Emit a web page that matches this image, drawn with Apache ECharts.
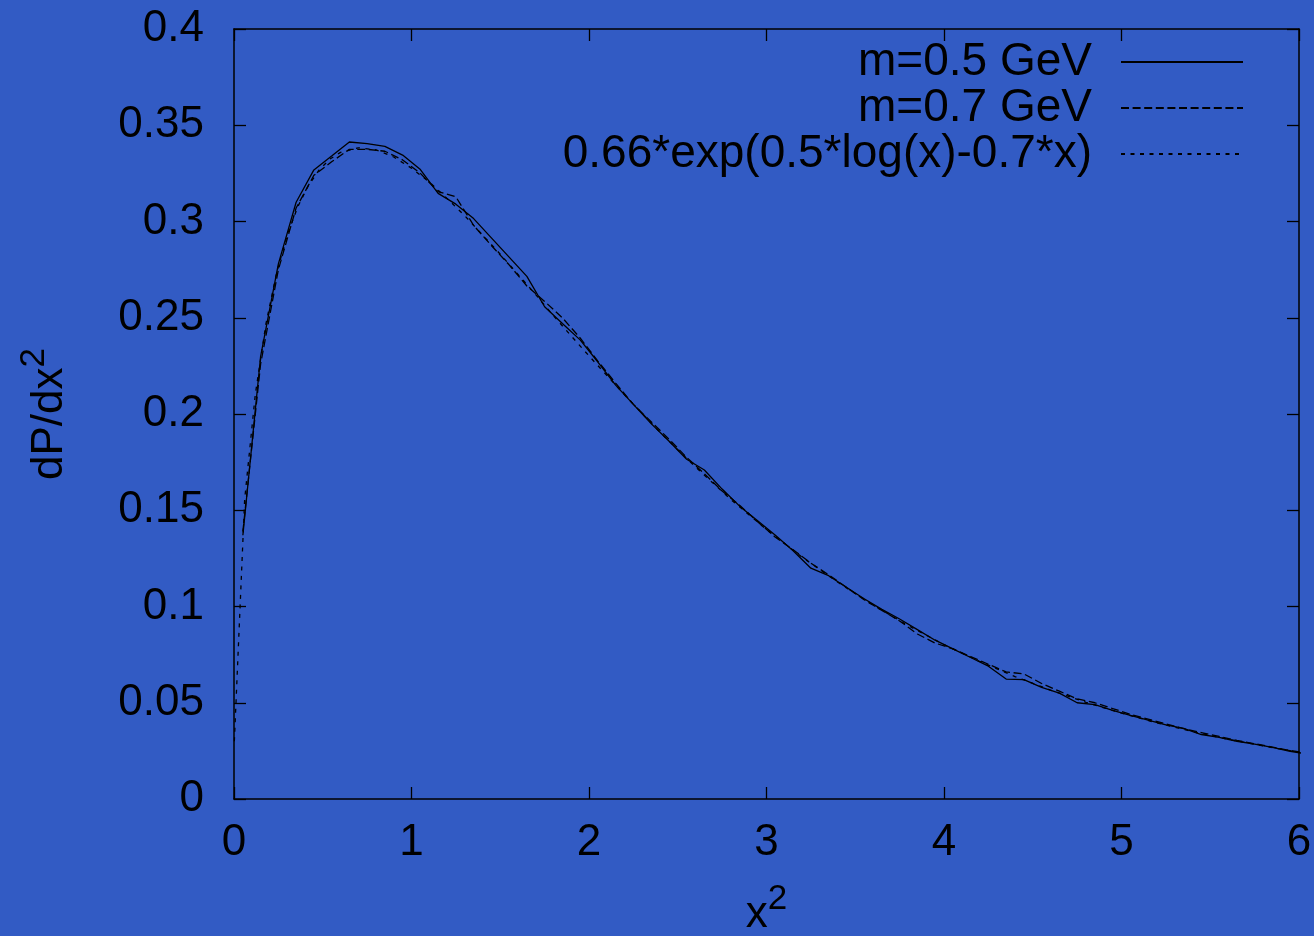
<!DOCTYPE html>
<html>
<head>
<meta charset="utf-8">
<script src="https://cdn.jsdelivr.net/npm/echarts@6/dist/echarts.min.js"></script>
<style>
  html, body { margin: 0; padding: 0; background: #325bc4; }
  #chart { width: 1314px; height: 936px; }
</style>
</head>
<body>
<div id="chart"></div>
<script>
// x^2 sample positions shared by the two simulated distributions
const xSim = [
  0.05, 0.15, 0.25, 0.35, 0.45, 0.55, 0.65, 0.75, 0.85, 0.95,
  1.05, 1.15, 1.25, 1.35, 1.45, 1.55, 1.65, 1.75, 1.85, 1.95,
  2.05, 2.15, 2.25, 2.35, 2.45, 2.55, 2.65, 2.75, 2.85, 2.95,
  3.05, 3.15, 3.25, 3.35, 3.45, 3.55, 3.65, 3.75, 3.85, 3.95,
  4.05, 4.15, 4.25, 4.35, 4.45, 4.55, 4.65, 4.75, 4.85, 4.95,
  5.05, 5.15, 5.25, 5.35, 5.45, 5.55, 5.65, 5.75, 5.85, 5.95, 6.05
];

// dP/dx^2 for m = 0.5 GeV
const pM05 = [
  0.137, 0.230, 0.278, 0.310, 0.3268, 0.334, 0.3413, 0.3405, 0.339, 0.3345,
  0.327, 0.3146, 0.309, 0.3015, 0.2915, 0.2815, 0.2715, 0.2557, 0.2470, 0.2385,
  0.2270, 0.2150, 0.2050, 0.1950, 0.1860, 0.1765, 0.1709, 0.1610, 0.1520, 0.1445,
  0.1370, 0.1290, 0.1199, 0.1160, 0.1100, 0.1040, 0.0985, 0.0935, 0.0880, 0.0825,
  0.0780, 0.0735, 0.0690, 0.0623, 0.0620, 0.0580, 0.0550, 0.0500, 0.0490, 0.0460,
  0.0435, 0.0410, 0.0385, 0.0367, 0.0335, 0.0320, 0.0300, 0.0285, 0.0268, 0.0248, 0.0233
];

// dP/dx^2 for m = 0.7 GeV
const pM07 = [
  0.139, 0.226, 0.275, 0.307, 0.324, 0.331, 0.3375, 0.3375, 0.3365, 0.332,
  0.325, 0.3155, 0.3128, 0.298, 0.2875, 0.2775, 0.2665, 0.2585, 0.2500, 0.2395,
  0.2275, 0.2160, 0.2050, 0.1960, 0.1870, 0.1775, 0.1690, 0.1600, 0.1525, 0.1440,
  0.1360, 0.1295, 0.1225, 0.1165, 0.1100, 0.1035, 0.0980, 0.0925, 0.0857, 0.0810,
  0.0780, 0.0740, 0.0700, 0.0660, 0.0650, 0.0600, 0.0560, 0.0520, 0.0500, 0.0470,
  0.0440, 0.0415, 0.0390, 0.0365, 0.0345, 0.0325, 0.0305, 0.0287, 0.0270, 0.0252, 0.0237
];

// fitted curve 0.66*exp(0.5*log(x)-0.7*x)
const xFit = [
  0.002, 0.06, 0.12, 0.18, 0.24, 0.30, 0.36, 0.42, 0.48, 0.54,
  0.60, 0.70, 0.80, 0.90, 1.0, 1.1, 1.2, 1.3, 1.4, 1.5,
  1.6, 1.7, 1.8, 1.9, 2.0, 2.2, 2.4, 2.6, 2.8, 3.0,
  3.2, 3.4, 3.6, 3.8, 4.0, 4.2, 4.4, 4.6, 4.8, 5.0,
  5.2, 5.4, 5.6, 5.8, 6.0
];
const pFit = [
  0.030, 0.1556, 0.2102, 0.2469, 0.2733, 0.2930, 0.3078, 0.3188, 0.3268, 0.3324,
  0.3359, 0.3383, 0.3372, 0.3335, 0.3277, 0.3205, 0.3120, 0.3030, 0.2930, 0.2830,
  0.2725, 0.2620, 0.2510, 0.2405, 0.2302, 0.2100, 0.1905, 0.1725, 0.1555, 0.1400,
  0.1257, 0.1127, 0.1008, 0.0900, 0.0802, 0.0715, 0.0636, 0.0566, 0.0502, 0.0446,
  0.0395, 0.0350, 0.0310, 0.0275, 0.0243
];

const seriesNames = ['m=0.5 GeV', 'm=0.7 GeV', '0.66*exp(0.5*log(x)-0.7*x)'];

const xTicks = { min: 0, max: 6, interval: 1 };
const yTicks = { min: 0, max: 0.4, interval: 0.05 };

const FONT = '"Liberation Sans", Arial, Helvetica, sans-serif';
const INK = '#000000';

function pairs(xs, ys) {
  return xs.map((x, i) => [x, ys[i]]);
}

const chart = echarts.init(document.getElementById('chart'), null, { renderer: 'canvas' });

const axisLineStyle = { color: INK, width: 1.5 };
const tickStyle = { color: INK, width: 1.3 };

// axis titles with a raised exponent
const superscriptRich = {
  base: { fontSize: 44, fontFamily: FONT, color: INK, lineHeight: 55, verticalAlign: 'bottom' },
  sup: { fontSize: 35, fontFamily: FONT, color: INK, lineHeight: 35, verticalAlign: 'top' }
};

const lineCommon = {
  type: 'line',
  showSymbol: false,
  symbol: 'none',
  animation: false,
  clip: true,
  z: 3
};

chart.setOption({
  backgroundColor: '#325bc4',
  animation: false,
  grid: {
    left: 234, right: 15, top: 29, bottom: 137,
    containLabel: false,
    outerBoundsMode: 'none'
  },
  legend: {
    orient: 'vertical',
    align: 'right',
    right: 70,
    top: 39,
    padding: 0,
    itemGap: 0,
    itemWidth: 122,
    itemHeight: 1,
    data: seriesNames,
    itemStyle: { color: 'rgba(0,0,0,0)', borderWidth: 0, opacity: 0 },
    textStyle: {
      fontSize: 46,
      fontFamily: FONT,
      color: INK,
      lineHeight: 46,
      padding: [0, 24, 0, 0]
    }
  },
  xAxis: [
    {
      type: 'value',
      position: 'bottom',
      min: xTicks.min, max: xTicks.max, interval: xTicks.interval,
      axisLine: { show: true, onZero: false, lineStyle: axisLineStyle },
      axisTick: { show: true, inside: true, length: 12, lineStyle: tickStyle },
      axisLabel: { show: true, margin: 22, fontSize: 44, fontFamily: FONT, color: INK },
      splitLine: { show: false },
      name: '{base|x}{sup|2}',
      nameLocation: 'middle',
      nameGap: 83,
      nameTextStyle: { rich: superscriptRich }
    },
    {
      type: 'value',
      position: 'top',
      min: xTicks.min, max: xTicks.max, interval: xTicks.interval,
      axisLine: { show: true, onZero: false, lineStyle: axisLineStyle },
      axisTick: { show: true, inside: true, length: 12, lineStyle: tickStyle },
      axisLabel: { show: false },
      splitLine: { show: false }
    }
  ],
  yAxis: [
    {
      type: 'value',
      position: 'left',
      min: yTicks.min, max: yTicks.max, interval: yTicks.interval,
      axisLine: { show: true, onZero: false, lineStyle: axisLineStyle },
      axisTick: { show: true, inside: true, length: 12, lineStyle: tickStyle },
      axisLabel: { show: true, margin: 30, fontSize: 44, fontFamily: FONT, color: INK },
      splitLine: { show: false },
      name: '{base|dP/dx}{sup|2}',
      nameLocation: 'middle',
      nameRotate: 90,
      nameGap: 162,
      nameTextStyle: { rich: superscriptRich }
    },
    {
      type: 'value',
      position: 'right',
      min: yTicks.min, max: yTicks.max, interval: yTicks.interval,
      axisLine: { show: true, onZero: false, lineStyle: axisLineStyle },
      axisTick: { show: true, inside: true, length: 12, lineStyle: tickStyle },
      axisLabel: { show: false },
      splitLine: { show: false }
    }
  ],
  series: [
    Object.assign({}, lineCommon, {
      name: seriesNames[0],
      data: pairs(xSim, pM05),
      lineStyle: { color: INK, width: 1.3, type: 'solid' },
      itemStyle: { color: INK }
    }),
    Object.assign({}, lineCommon, {
      name: seriesNames[1],
      data: pairs(xSim, pM07),
      lineStyle: { color: INK, width: 1.3, type: [8, 3.6] },
      itemStyle: { color: INK }
    }),
    Object.assign({}, lineCommon, {
      name: seriesNames[2],
      data: pairs(xFit, pFit),
      lineStyle: { color: INK, width: 1.3, type: [4, 5.5] },
      itemStyle: { color: INK }
    })
  ]
});
</script>
</body>
</html>
